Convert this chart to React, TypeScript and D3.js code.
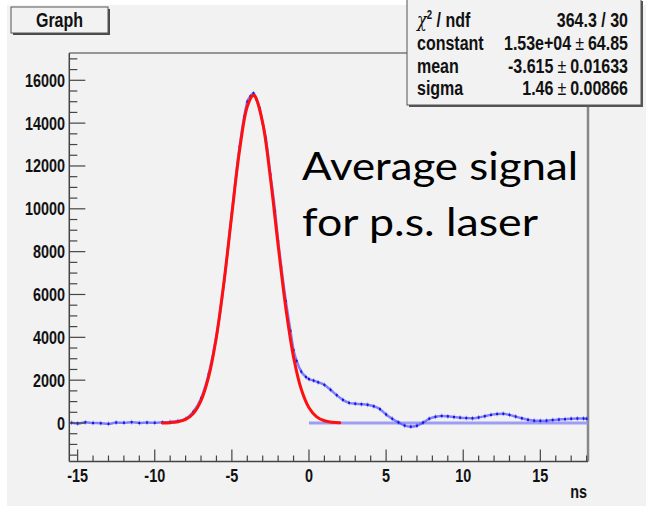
import React from "react";
import * as d3 from "d3";

// ---- data ----
const dataX = [-15.4,-15,-14.5,-14,-13.5,-13,-12.5,-12,-11.5,-11,-10.5,-10,-9.5,-9,-8.5,-8,-7.5,-7,-6.5,-6,-5.5,-5,-4.5,-4.2,-4,-3.8,-3.6,-3.4,-3.2,-3,-2.8,-2.5,-2.2,-2,-1.8,-1.5,-1.2,-1,-0.8,-0.5,-0.2,0,0.3,0.6,1,1.4,1.8,2.2,2.6,3,3.4,3.8,4.2,4.6,5,5.4,5.8,6.2,6.6,7,7.4,7.8,8.2,8.6,9,9.4,9.8,10.2,10.6,11,11.4,11.8,12.2,12.6,13,13.4,13.8,14.2,14.6,15,15.4,15.8,16.2,16.6,17,17.4,17.8,18];
const dataY = [10,-20,30,0,-10,-40,20,10,40,0,20,10,30,50,90,190,520,1150,2300,4050,6600,9800,12900,14300,15000,15250,15400,15100,14700,14000,13300,11600,9900,8500,7300,5700,4300,3400,2900,2400,2150,2050,1980,1900,1780,1550,1300,1080,940,900,880,850,780,650,400,200,30,-120,-170,-130,20,200,290,330,310,280,250,230,220,260,320,380,420,430,380,300,220,150,110,100,110,140,160,180,200,210,210,200];
const dataErr = 110;

const fitX = [-9.5,-9,-8.5,-8,-7.5,-7,-6.5,-6,-5.5,-5,-4.5,-4,-3.615,-3.5,-3,-2.5,-2,-1.5,-1,-0.5,0,0.5,1,1.5,2];
const fitY = [5,17,57,168,444,1042,2172,4030,6650,9755,12730,14777,15300,15253,14001,11430,8299,5358,3077,1572,714,288,104,33,9];

const zeroLineX = [0, 18.09];

const xTicks = [-15, -10, -5, 0, 5, 10, 15];
const yTicks = [0, 2000, 4000, 6000, 8000, 10000, 12000, 14000, 16000];

const statLabels = ["χ", "constant", "mean", "sigma"];
const statValues = ["364.3 / 30", "1.53e+04", "-3.615", "1.46"];
const statErrors = ["", "64.85", "0.01633", "0.00866"];

const FONT = "'Liberation Sans', Arial, Helvetica, sans-serif";

function T({ x, y, anchor = "start", size = 18, weight = "bold", children, sx = 0.8 }: any) {
  return (
    <text
      transform={`translate(${x},${y}) scale(${sx},1)`}
      textAnchor={anchor}
      fontFamily={FONT}
      fontSize={size}
      fontWeight={weight}
      fill="#111"
    >
      {children}
    </text>
  );
}

export default function App() {
  const W = 646, H = 506;
  const left = 69.3, right = 588, top = 53, bottom = 461.5;
  const x = d3.scaleLinear().domain([-15.54, 18.09]).range([left, right]);
  const y = d3.scaleLinear().domain([-1797, 17274]).range([bottom, top]);

  const xMinor = d3.range(-15, 19, 1);
  const yMinor = d3.range(-1500, 17500, 500);

  const dataPts = dataX.map((v, i) => [v, dataY[i]] as [number, number]);
  const fitPts = fitX.map((v, i) => [v, fitY[i]] as [number, number]);

  const fitLine = d3.line<[number, number]>().x(d => x(d[0])).y(d => y(d[1])).curve(d3.curveCatmullRom);
  const dataLine = d3.line<[number, number]>().x(d => x(d[0])).y(d => y(d[1])).curve(d3.curveMonotoneX);

  const rowY = [27, 50, 72.5, 95];

  return (
    <div style={{ position: "fixed", left: 0, top: 0 }}>
      <svg width={W} height={H} style={{ display: "block" }}>
        <rect x={0} y={0} width={W} height={H} fill="#ffffff" />
        <rect x={7} y={5} width={W - 7} height={H - 5} fill="#f2f2f2" />

        {/* title box */}
        <rect x={13} y={9} width={97} height={26} fill="#4a4a4a" />
        <rect x={11} y={7} width={97} height={26} fill="#f2f2f2" stroke="#555" strokeWidth={1} />
        <T x={59.5} y={27} anchor="middle" size={20}>Graph</T>

        {/* frame */}
        <line x1={left} x2={right} y1={top} y2={top} stroke="#777" strokeWidth={1.5} />
        <line x1={right} x2={right} y1={top} y2={bottom} stroke="#888" strokeWidth={2.5} />

        {/* zero line */}
        <line x1={x(zeroLineX[0])} x2={x(zeroLineX[1])} y1={y(0)} y2={y(0)} stroke="#8f8ff5" strokeWidth={3} opacity={0.85} />

        {/* data */}
        <path d={dataLine(dataPts) || ""} fill="none" stroke="#3333ff" strokeOpacity={0.6} strokeWidth={2.5} />
        {dataPts.map((d, i) => (
          <g key={i}>
            <line x1={x(d[0])} x2={x(d[0])} y1={y(d[1] - dataErr)} y2={y(d[1] + dataErr)} stroke="#2222ff" strokeOpacity={0.45} strokeWidth={1} />
            <rect x={x(d[0]) - 1} y={y(d[1]) - 1} width={2} height={2} fill="#1010e0" />
          </g>
        ))}

        {/* fit */}
        <path d={fitLine(fitPts) || ""} fill="none" stroke="#ff1010" strokeWidth={3} strokeLinejoin="round" strokeLinecap="round" />

        {/* axes */}
        <line x1={left} x2={left} y1={top} y2={bottom} stroke="#444" strokeWidth={1.5} />
        <line x1={left} x2={right} y1={bottom} y2={bottom} stroke="#444" strokeWidth={1.5} />
        {yMinor.map(v => (
          <line key={"ym" + v} x1={left} x2={left + (v % 2000 === 0 ? 16 : 8)} y1={y(v)} y2={y(v)} stroke="#444" strokeWidth={1.2} />
        ))}
        {xMinor.map(v => (
          <line key={"xm" + v} x1={x(v)} x2={x(v)} y1={bottom} y2={bottom - (v % 5 === 0 ? 12 : 6)} stroke="#444" strokeWidth={1.2} />
        ))}
        {yTicks.map(v => (
          <T key={"yl" + v} x={65} y={y(v) + 6.5} anchor="end">{String(v)}</T>
        ))}
        {xTicks.map(v => (
          <T key={"xl" + v} x={x(v)} y={482} anchor="middle">{String(v)}</T>
        ))}
        <T x={587} y={498} anchor="end">ns</T>

        {/* stats box */}
        <rect x={409} y={1} width={234} height={106} fill="#555" />
        <rect x={407} y={-1} width={234} height={106} fill="#f2f2f2" stroke="#555" strokeWidth={1} />
        <text transform={`translate(417,${rowY[0]}) scale(0.8,1)`} fontFamily={FONT} fontSize={20} fontWeight="bold" fill="#111">
          <tspan fontStyle="italic" fontWeight="normal" fontFamily="'DejaVu Serif', serif">χ</tspan>
          <tspan fontSize={12} dy={-8}>2</tspan>
          <tspan dy={8}> / ndf</tspan>
        </text>
        {statLabels.slice(1).map((s, i) => (
          <T key={s} x={417} y={rowY[i + 1]} size={20}>{s}</T>
        ))}
        <T x={628} y={rowY[0]} size={20} anchor="end">{statValues[0]}</T>
        {statValues.slice(1).map((s, i) => (
          <text key={s} transform={`translate(628,${rowY[i + 1]}) scale(0.8,1)`} textAnchor="end" fontFamily={FONT} fontSize={20} fontWeight="bold" fill="#111">
            {s}
            <tspan fontWeight="normal" dx={5}>±</tspan>
            <tspan dx={5}>{statErrors[i + 1]}</tspan>
          </text>
        ))}

        {/* annotation */}
        <text x={302} y={180} fontFamily="Lato, 'Open Sans', sans-serif" fontSize={39} fill="#000" textLength={276} lengthAdjust="spacingAndGlyphs">Average signal</text>
        <text x={302} y={236} fontFamily="Lato, 'Open Sans', sans-serif" fontSize={39} fill="#000" textLength={236} lengthAdjust="spacingAndGlyphs">for p.s. laser</text>
      </svg>
    </div>
  );
}
